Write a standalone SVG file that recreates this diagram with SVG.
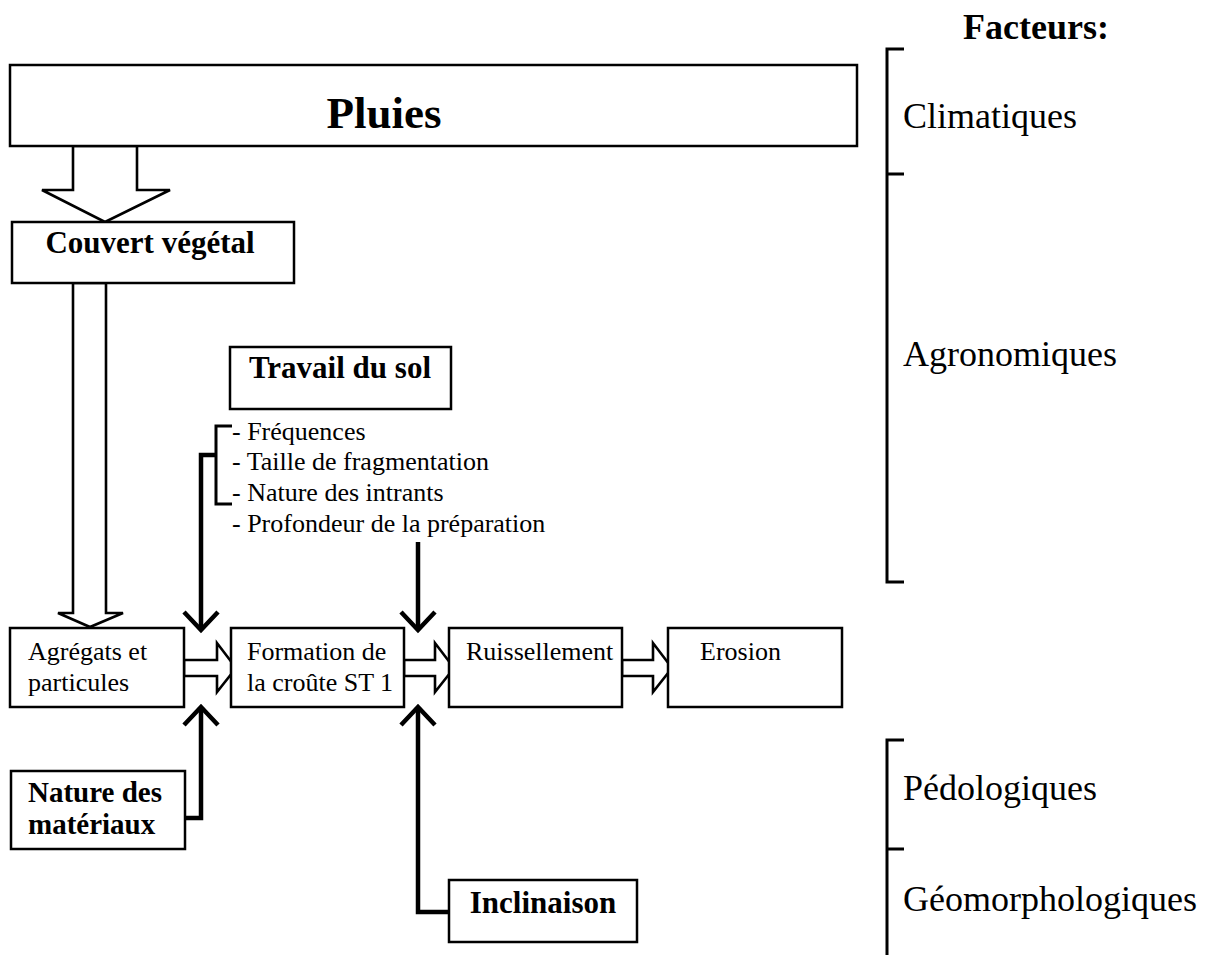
<svg xmlns="http://www.w3.org/2000/svg" width="1213" height="955" viewBox="0 0 1213 955">
  <style>
    .box { fill: #fff; stroke: #000; stroke-width: 2.5; }
    .hollow { fill: #fff; stroke: #000; stroke-width: 2.6; stroke-linejoin: miter; }
    .thick { fill: none; stroke: #000; stroke-width: 4.5; stroke-linejoin: miter; stroke-linecap: butt; }
    .brk { fill: none; stroke: #000; stroke-width: 3; }
    text { font-family: "Liberation Serif", "Times New Roman", serif; fill: #000; }
    .b { font-weight: bold; font-size: 31px; }
    .b2 { font-weight: bold; font-size: 29px; }
    .t { font-size: 26px; }
    .side { font-size: 36px; }
  </style>
  <defs>
    <path id="chevDown" d="M-17,-18 L0,0 L17,-18" class="thick"/>
    <path id="chevUp" d="M-17,18 L0,0 L17,18" class="thick"/>
  </defs>

  <!-- connectors -->
  <g id="connectors">
    <!-- Pluies -> Couvert végétal -->
    <path class="hollow" d="M73,146 V190 H42 L105,222 L170,190 H137 V146 Z"/>
    <!-- Couvert végétal -> Agrégats -->
    <path class="hollow" d="M73,283 V613 H58 L90,627 L123,613 H106 V283 Z"/>
    <!-- chain of hollow arrows -->
    <path class="hollow" d="M184,660 H217 V643 L236,668 L217,692 V676 H184 Z"/>
    <path class="hollow" d="M404,660 H435 V643 L454,668 L435,692 V676 H404 Z"/>
    <path class="hollow" d="M622,660 H653 V643 L672,668 L653,692 V676 H622 Z"/>
    <!-- Travail du sol list bracket and arrow -->
    <path class="brk" d="M232,426 H216 V504 H232"/>
    <path class="thick" d="M216,455 H201 V628"/>
    <use href="#chevDown" x="201" y="630"/>
    <!-- Profondeur -> croûte -->
    <path class="thick" d="M418,542 V628"/>
    <use href="#chevDown" x="418" y="630"/>
    <!-- Nature des matériaux -> croûte -->
    <path class="thick" d="M185,818 H201 V709"/>
    <use href="#chevUp" x="201" y="707"/>
    <!-- Inclinaison -> ruissellement -->
    <path class="thick" d="M450,912 H418 V709"/>
    <use href="#chevUp" x="418" y="707"/>
  </g>

  <g id="pluies">
    <rect class="box" x="10" y="65" width="847" height="81"/>
    <text x="384" y="128" text-anchor="middle" font-weight="bold" font-size="45">Pluies</text>
  </g>

  <g id="couvert">
    <rect class="box" x="12" y="222" width="282" height="61"/>
    <text class="b" x="150" y="253" text-anchor="middle">Couvert végétal</text>
  </g>

  <g id="travail">
    <rect class="box" x="230" y="347" width="221" height="62"/>
    <text class="b" x="340" y="378" text-anchor="middle">Travail du sol</text>
    <text class="t" x="232" y="440">- Fréquences</text>
    <text class="t" x="232" y="470">- Taille de fragmentation</text>
    <text class="t" x="232" y="501">- Nature des intrants</text>
    <text class="t" x="232" y="532">- Profondeur de la préparation</text>
  </g>

  <g id="agregats">
    <rect class="box" x="10" y="628" width="174" height="79"/>
    <text class="t" x="28" y="660">Agrégats et</text>
    <text class="t" x="28" y="691">particules</text>
  </g>

  <g id="croute">
    <rect class="box" x="231" y="628" width="173" height="79"/>
    <text class="t" x="247" y="660">Formation de</text>
    <text class="t" x="247" y="691">la croûte ST 1</text>
  </g>

  <g id="ruissellement">
    <rect class="box" x="449" y="628" width="173" height="79"/>
    <text class="t" x="466" y="660">Ruissellement</text>
  </g>

  <g id="erosion">
    <rect class="box" x="668" y="628" width="174" height="79"/>
    <text class="t" x="700" y="660">Erosion</text>
  </g>

  <g id="materiaux">
    <rect class="box" x="11" y="771" width="174" height="78"/>
    <text class="b2" x="28" y="802">Nature des</text>
    <text class="b2" x="28" y="834">matériaux</text>
  </g>

  <g id="inclinaison">
    <rect class="box" x="449" y="880" width="188" height="62"/>
    <text class="b" x="543" y="913" text-anchor="middle">Inclinaison</text>
  </g>

  <!-- factor brackets on the right -->
  <g id="facteurs">
    <text x="1036" y="39" text-anchor="middle" font-weight="bold" font-size="36">Facteurs:</text>
    <path class="brk" d="M904,49 H887 V582 H904 M887,174 H904"/>
    <path class="brk" d="M904,740 H887 V955 M887,849 H904"/>
    <text class="side" x="903" y="128">Climatiques</text>
    <text class="side" x="903" y="366">Agronomiques</text>
    <text class="side" x="903" y="800">Pédologiques</text>
    <text class="side" x="903" y="911">Géomorphologiques</text>
  </g>
</svg>
